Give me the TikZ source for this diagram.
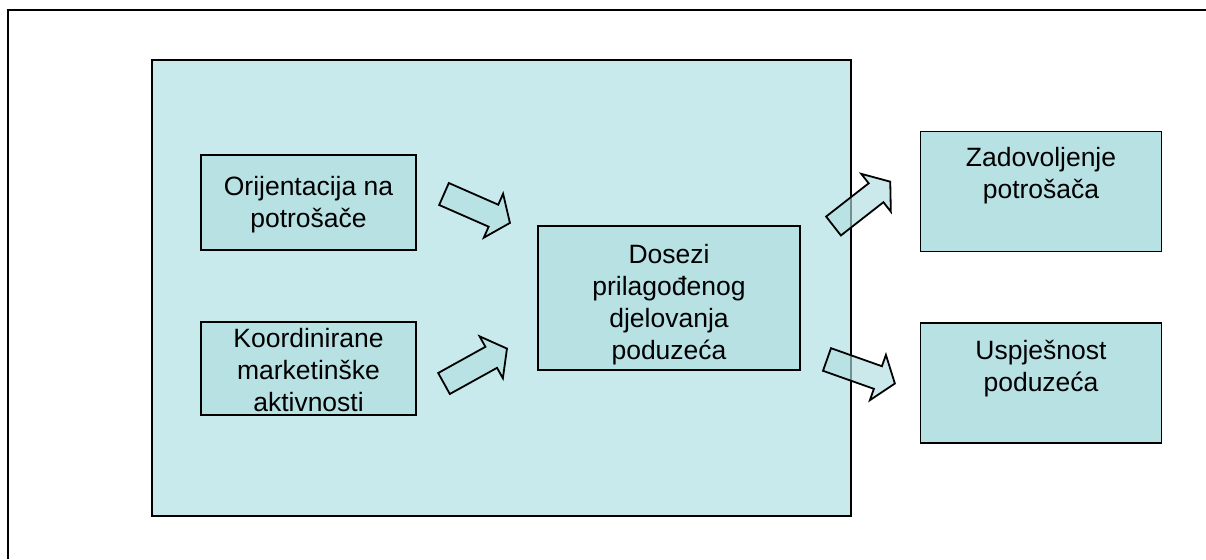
\documentclass[tikz,border=0pt]{standalone}
\usepackage{fontspec}
\setmainfont{Liberation Sans}
\definecolor{bigfill}{RGB}{200,234,236}
\definecolor{boxfill}{RGB}{184,225,228}
\definecolor{arrfill}{RGB}{176,222,225}
\begin{document}
\begin{tikzpicture}[x=1pt,y=-1pt,
  bigbox/.style={draw=black,line width=1.8pt,fill=bigfill,minimum width=699pt,minimum height=456pt,inner sep=0pt},
  smallbox/.style={draw=black,line width=1.8pt,fill=boxfill,inner sep=0pt},
  label/.style={align=center,font=\fontsize{26.5}{32}\selectfont,inner sep=0pt},
  blockarrow/.style={draw=black,line width=1.8pt,fill=arrfill,fill opacity=0.65,line join=miter}]
\useasboundingbox (0,0) rectangle (1206,559);
\fill[white] (0,0) rectangle (1206,559);
% outer frame (only left and top edges visible)
\draw[line width=1.7pt] (8,559) -- (8,10) -- (1206,10);
% main box
\node[bigbox] (main) at (501.5,288) {};
% inner boxes
\node[smallbox,minimum width=215pt,minimum height=95pt] (orient) at (308.5,202.5) {};
\node[label] (orientt) at (308.5,205) {Orijentacija na\\potrošače};
\node[smallbox,minimum width=215pt,minimum height=93pt] (koord) at (308.5,368.5) {};
\node[label] (koordt) at (308.5,370) {Koordinirane\\marketinške\\aktivnosti};
\node[smallbox,minimum width=262pt,minimum height=144pt] (dos) at (669,298) {};
\node[label] (dost) at (669,305) {Dosezi\\prilagođenog\\djelovanja\\poduzeća};
\node[smallbox,minimum width=241pt,minimum height=120pt] (zad) at (1041,191.5) {};
\node[label] (zadt) at (1041,176) {Zadovoljenje\\potrošača};
\node[smallbox,minimum width=241pt,minimum height=120pt] (usp) at (1041,383) {};
\node[label] (uspt) at (1041,369) {Uspješnost\\poduzeća};
% block arrows
\coordinate (a1) at (444,194);
\coordinate (a2) at (444,383.5);
\coordinate (a3) at (833.5,226);
\coordinate (a4) at (827,359.5);
\def\blockarr#1#2{%
  \draw[blockarrow,shift={(#1)},rotate=#2]
    (0,-12) -- (54,-12) -- (54,-24) -- (72,0) -- (54,24) -- (54,12) -- (0,12) -- cycle;}
\blockarr{a1}{-23.7}
\blockarr{a2}{29}
\blockarr{a3}{38}
\blockarr{a4}{-19.5}
\end{tikzpicture}
\end{document}
